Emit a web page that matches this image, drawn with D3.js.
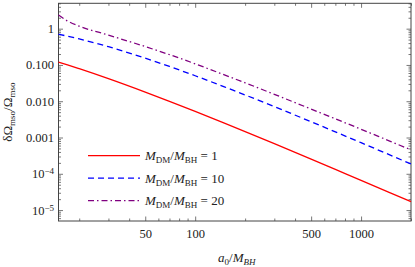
<!DOCTYPE html>
<html lang="en">
  <head>
    <meta charset="utf-8"/>
    <script src="https://d3js.org/d3.v7.min.js"></script>
    <style>
      body { margin: 0; background: #fff; }
      text { font-family: "Liberation Serif", "Times New Roman", serif; fill: #222; }
    </style>
  </head>
  <body>
    <div id="chart"></div>
    <script>
    // a0/M_BH sample points and the three curves
    var a0 = [15, 17, 20, 30, 50, 70, 100, 150, 200, 300, 500, 700, 1000, 1500, 2000];
    var ratio1  = [0.120, 0.1005, 0.0788, 0.0418, 0.0178, 0.0099, 0.00524, 0.00249, 0.001456, 6.76e-4, 2.54e-4, 1.32e-4, 6.6e-5, 2.99e-5, 1.70e-5];
    var ratio10 = [0.70, 0.621, 0.522, 0.318, 0.154, 0.0908, 0.0504, 0.0249, 0.0149, 0.00708, 0.00272, 0.00143, 7.19e-4, 3.27e-4, 1.86e-4];
    var ratio20 = [2.37, 1.63, 1.17, 0.665, 0.321, 0.192, 0.1076, 0.0532, 0.0322, 0.0155, 0.00608, 0.00327, 0.00169, 7.85e-4, 4.57e-4];

    var seriesNames = ["1", "10", "20"];
    var seriesColors = ["#ff0000", "#0000ff", "#800080"];
    var seriesDash = ["none", "6,4", "6,3,1.5,3"];

    var xTicks = [50, 100, 500, 1000];
    var yTicks = [1, 0.1, 0.01, 0.001, 1e-4, 1e-5];
    var yTickLabels = ["1", "0.100", "0.010", "0.001", "10|-4", "10|-5"];

    var width = 415, height = 267;
    var margin = {left: 58.5, right: 4, top: 3.3, bottom: 46};
    var plotW = width - margin.left - margin.right;
    var plotH = height - margin.top - margin.bottom;

    var svg = d3.select("#chart").append("svg")
        .attr("width", width)
        .attr("height", height);

    var x = d3.scaleLog().domain([15, 2000]).range([0, plotW]);
    var y = d3.scaleLog().domain([5e-6, 5]).range([plotH, 0]);

    var g = svg.append("g")
        .attr("transform", "translate(" + margin.left + "," + margin.top + ")");

    // minor ticks
    var xMinor = [];
    [10, 100, 1000].forEach(function(d) {
      for (var k = 1; k < 10; k++) {
        var v = d * k;
        if (v >= 15 && v <= 2000 && xTicks.indexOf(v) < 0) xMinor.push(v);
      }
    });
    var yMinor = [];
    [1e-6, 1e-5, 1e-4, 1e-3, 1e-2, 1e-1, 1].forEach(function(d) {
      for (var k = 2; k < 10; k++) {
        var v = d * k;
        if (v >= 5e-6 && v <= 5.0001) yMinor.push(v);
      }
    });

    function tickAxis(axis, vals, size) {
      return axis.tickValues(vals).tickSize(size).tickFormat("");
    }

    g.append("g").attr("transform", "translate(0," + plotH + ")")
      .call(tickAxis(d3.axisBottom(x), xMinor, -2.5));
    g.append("g").call(tickAxis(d3.axisTop(x), xMinor, -2.5));
    g.append("g").call(tickAxis(d3.axisTop(x), xTicks, -4.5));
    g.append("g").call(tickAxis(d3.axisLeft(y), yMinor, -2.5));
    g.append("g").attr("transform", "translate(" + plotW + ",0)")
      .call(tickAxis(d3.axisRight(y), yMinor, -2.5));
    g.append("g").attr("transform", "translate(" + plotW + ",0)")
      .call(tickAxis(d3.axisRight(y), yTicks, -4.5));

    // labelled axes
    var xAxis = g.append("g")
      .attr("transform", "translate(0," + plotH + ")")
      .call(d3.axisBottom(x).tickValues(xTicks).tickSize(-4.5).tickPadding(8)
        .tickFormat(function(d) { return d; }));

    var yAxis = g.append("g")
      .call(d3.axisLeft(y).tickValues(yTicks).tickSize(-4.5).tickPadding(4.5)
        .tickFormat(function(d, i) { return yTickLabels[i]; }));

    svg.selectAll(".domain").remove();
    svg.selectAll(".tick line").attr("stroke", "#555").attr("stroke-width", 0.8);
    xAxis.selectAll("text").attr("font-size", "12.5px").attr("fill", "#222");
    yAxis.selectAll("text").attr("font-size", "12.5px").attr("fill", "#222")
      .each(function() {
        var t = d3.select(this);
        var s = t.text();
        if (s.indexOf("|") > 0) {
          var parts = s.split("|");
          t.text(null);
          t.append("tspan").text(parts[0]);
          t.append("tspan").attr("dy", "-0.45em").attr("font-size", "9px").text("\u2212" + parts[1].slice(1));
        }
      });

    // frame
    g.append("rect")
      .attr("width", plotW).attr("height", plotH)
      .attr("fill", "none").attr("stroke", "#444").attr("stroke-width", 1);

    // curves
    var seriesValues = [ratio1, ratio10, ratio20];
    var line = d3.line()
      .x(function(d) { return x(d[0]); })
      .y(function(d) { return y(d[1]); })
      .curve(d3.curveMonotoneX);

    seriesValues.forEach(function(vals, i) {
      g.append("path")
        .datum(a0.map(function(a, j) { return [a, vals[j]]; }))
        .attr("d", line)
        .attr("fill", "none")
        .attr("stroke", seriesColors[i])
        .attr("stroke-width", 1.3)
        .attr("stroke-dasharray", seriesDash[i]);
    });

    // legend
    var legend = svg.append("g").attr("transform", "translate(88,155.7)");
    seriesNames.forEach(function(name, i) {
      var row = legend.append("g").attr("transform", "translate(0," + (i * 22.5) + ")");
      row.append("line")
        .attr("x1", 0).attr("x2", 52)
        .attr("stroke", seriesColors[i])
        .attr("stroke-width", 1.3)
        .attr("stroke-dasharray", seriesDash[i]);
      var t = row.append("text").attr("x", 57).attr("y", 4.5).attr("font-size", "13px");
      t.append("tspan").attr("font-style", "italic").text("M");
      t.append("tspan").attr("font-size", "9px").attr("dy", "3").text("DM");
      t.append("tspan").attr("dy", "-3").text("/");
      t.append("tspan").attr("font-style", "italic").text("M");
      t.append("tspan").attr("font-size", "9px").attr("dy", "3").text("BH");
      t.append("tspan").attr("dy", "-3").text(" = " + name);
    });

    // axis titles
    var xt = svg.append("text")
      .attr("x", margin.left + plotW / 2 + 2).attr("y", 261.5)
      .attr("text-anchor", "middle").attr("font-size", "13px");
    xt.append("tspan").attr("font-style", "italic").text("a");
    xt.append("tspan").attr("font-size", "9px").attr("dy", "3").text("0");
    xt.append("tspan").attr("dy", "-3").text("/");
    xt.append("tspan").attr("font-style", "italic").text("M");
    xt.append("tspan").attr("font-size", "9px").attr("dy", "3").attr("font-style", "italic").text("BH");

    var yt = svg.append("text")
      .attr("transform", "translate(12," + (margin.top + plotH / 2) + ") rotate(-90)")
      .attr("text-anchor", "middle").attr("font-size", "13px");
    yt.append("tspan").text("\u03b4\u03a9");
    yt.append("tspan").attr("font-size", "9px").attr("dy", "3").text("mso");
    yt.append("tspan").attr("dy", "-3").text("/\u03a9");
    yt.append("tspan").attr("font-size", "9px").attr("dy", "3").text("mso");
    </script>
  </body>
</html>
